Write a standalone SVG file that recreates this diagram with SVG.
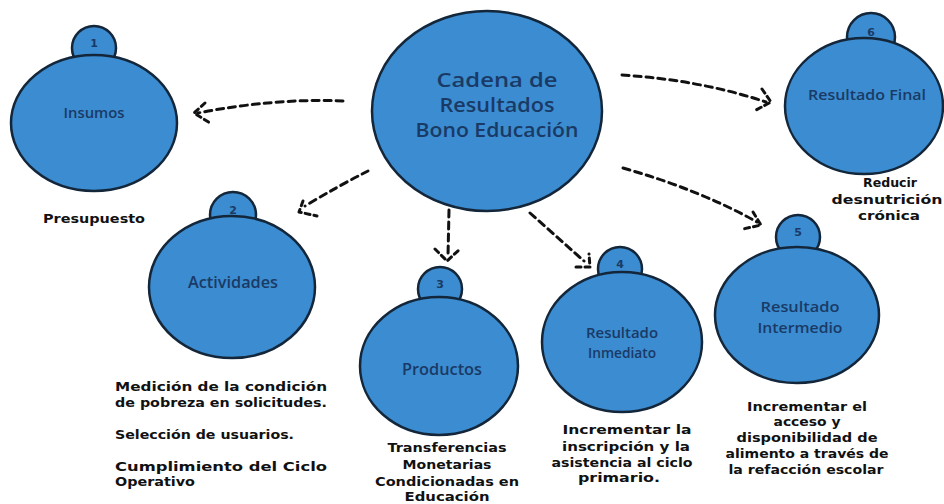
<svg xmlns="http://www.w3.org/2000/svg" width="944" height="504" viewBox="0 0 944 504">
<style>
.big{fill:#3b8cd0;stroke:#13263a;stroke-width:2.5}
.lbl{font-family:"Open Sans","Liberation Sans",sans-serif;font-weight:600;fill:#1a3a66;text-anchor:middle}
.num{font-family:"DejaVu Sans",sans-serif;font-weight:bold;font-size:11px;fill:#1a3a66;text-anchor:middle}
.desc{font-family:"DejaVu Sans",sans-serif;font-weight:bold;font-size:12px;fill:#111}
.c{text-anchor:middle}
.conn path{fill:none;stroke:#111;stroke-width:3;stroke-dasharray:7 5;stroke-linecap:round;stroke-linejoin:round}
.conn path.h{stroke-dasharray:5 4}
</style>
<rect width="944" height="504" fill="#ffffff"/>
<g id="connectors" class="conn">
<path d="M343,101 Q275,98 198,113"/>
<path class="h" d="M205,103 L194,113 L210,123"/>
<path d="M368,171 Q340,185 305,206"/>
<path class="h" d="M303,201 L299,212 L317,216"/>
<path d="M449,210 L448,256"/>
<path class="h" d="M435,249 L447,261 L460,249"/>
<path d="M530,213 L584,261"/>
<path class="h" d="M576,267 L590,267 L589,254"/>
<path d="M622,75 Q700,80 766,102"/>
<path class="h" d="M762,89 L771,102 L756,110"/>
<path d="M623,168 Q700,190 757,222"/>
<path class="h" d="M753,212 L761,225 L743,229"/>
</g>
<g id="central">
<ellipse class="big" cx="487" cy="111" rx="115" ry="100"/>
<text class="lbl" x="497" y="87" font-size="20" textLength="121" lengthAdjust="spacingAndGlyphs">Cadena de</text>
<text class="lbl" x="497" y="112" font-size="20" textLength="115" lengthAdjust="spacingAndGlyphs">Resultados</text>
<text class="lbl" x="497" y="137" font-size="20" textLength="163" lengthAdjust="spacingAndGlyphs">Bono Educación</text>
</g>
<g id="node1">
<circle class="big" cx="94" cy="48" r="22"/>
<ellipse class="big" cx="94" cy="123" rx="83" ry="68"/>
<text class="num" x="94" y="47">1</text>
<text class="lbl" x="94" y="118" font-size="15" textLength="61" lengthAdjust="spacingAndGlyphs">Insumos</text>
<text class="desc c" x="94" y="223" textLength="102" lengthAdjust="spacingAndGlyphs">Presupuesto</text>
</g>
<g id="node2">
<circle class="big" cx="233" cy="215" r="23"/>
<ellipse class="big" cx="232" cy="287" rx="83" ry="71"/>
<text class="num" x="233" y="214">2</text>
<text class="lbl" x="233" y="288" font-size="16" textLength="90" lengthAdjust="spacingAndGlyphs">Actividades</text>
<text class="desc" x="115" y="391" textLength="212" lengthAdjust="spacingAndGlyphs">Medición de la condición</text>
<text class="desc" x="115" y="407" textLength="212" lengthAdjust="spacingAndGlyphs">de pobreza en solicitudes.</text>
<text class="desc" x="115" y="439" textLength="179" lengthAdjust="spacingAndGlyphs">Selección de usuarios.</text>
<text class="desc" x="115" y="471" textLength="212" lengthAdjust="spacingAndGlyphs">Cumplimiento  del  Ciclo</text>
<text class="desc" x="115" y="486" textLength="80" lengthAdjust="spacingAndGlyphs">Operativo</text>
</g>
<g id="node3">
<circle class="big" cx="440" cy="289" r="22"/>
<ellipse class="big" cx="439" cy="366" rx="79" ry="69"/>
<text class="num" x="440" y="288">3</text>
<text class="lbl" x="442" y="375" font-size="16" textLength="80" lengthAdjust="spacingAndGlyphs">Productos</text>
<text class="desc c" x="447" y="452" textLength="119" lengthAdjust="spacingAndGlyphs">Transferencias</text>
<text class="desc c" x="447" y="469" textLength="89" lengthAdjust="spacingAndGlyphs">Monetarias</text>
<text class="desc c" x="447" y="486" textLength="144" lengthAdjust="spacingAndGlyphs">Condicionadas en</text>
<text class="desc c" x="447" y="501" textLength="85" lengthAdjust="spacingAndGlyphs">Educación</text>
</g>
<g id="node4">
<circle class="big" cx="620" cy="269" r="22"/>
<ellipse class="big" cx="622" cy="342" rx="80" ry="70"/>
<text class="num" x="620" y="268">4</text>
<text class="lbl" x="622" y="338" font-size="15" textLength="72" lengthAdjust="spacingAndGlyphs">Resultado</text>
<text class="lbl" x="622" y="358" font-size="15" textLength="68" lengthAdjust="spacingAndGlyphs">Inmediato</text>
<text class="desc c" x="627" y="434" textLength="129" lengthAdjust="spacingAndGlyphs">Incrementar la</text>
<text class="desc c" x="626" y="451" textLength="128" lengthAdjust="spacingAndGlyphs">inscripción y la</text>
<text class="desc c" x="622" y="467" textLength="141" lengthAdjust="spacingAndGlyphs">asistencia al ciclo</text>
<text class="desc c" x="619" y="482" textLength="82" lengthAdjust="spacingAndGlyphs">primario.</text>
</g>
<g id="node5">
<circle class="big" cx="798" cy="237" r="22"/>
<ellipse class="big" cx="797" cy="315" rx="82" ry="68"/>
<text class="num" x="798" y="236">5</text>
<text class="lbl" x="800" y="312" font-size="15" textLength="79" lengthAdjust="spacingAndGlyphs">Resultado</text>
<text class="lbl" x="800" y="333" font-size="15" textLength="85" lengthAdjust="spacingAndGlyphs">Intermedio</text>
<text class="desc c" x="807" y="411" textLength="120" lengthAdjust="spacingAndGlyphs">Incrementar el</text>
<text class="desc c" x="807" y="426" textLength="67" lengthAdjust="spacingAndGlyphs">acceso y</text>
<text class="desc c" x="807" y="442" textLength="141" lengthAdjust="spacingAndGlyphs">disponibilidad de</text>
<text class="desc c" x="807" y="458" textLength="163" lengthAdjust="spacingAndGlyphs">alimento a través de</text>
<text class="desc c" x="806" y="474" textLength="155" lengthAdjust="spacingAndGlyphs">la refacción escolar</text>
</g>
<g id="node6">
<circle class="big" cx="871" cy="37" r="24"/>
<ellipse class="big" cx="864" cy="106" rx="79" ry="68"/>
<text class="num" x="871" y="36">6</text>
<text class="lbl" x="867" y="100" font-size="15" textLength="118" lengthAdjust="spacingAndGlyphs">Resultado Final</text>
<text class="desc c" x="890" y="187" textLength="54" lengthAdjust="spacingAndGlyphs">Reducir</text>
<text class="desc c" x="887" y="204" textLength="111" lengthAdjust="spacingAndGlyphs">desnutrición</text>
<text class="desc c" x="889" y="220" textLength="62" lengthAdjust="spacingAndGlyphs">crónica</text>
</g>
</svg>
